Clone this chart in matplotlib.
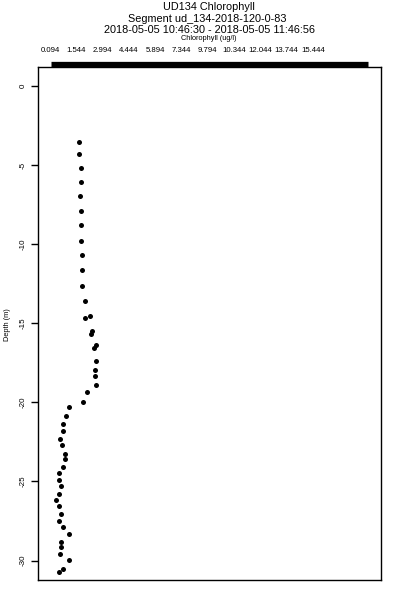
import matplotlib
matplotlib.use("Agg")
import matplotlib.pyplot as plt

# chlorophyll profile (ug/l) vs depth (m)
chl = [1.709, 1.709, 1.786, 1.819, 1.748, 1.819, 1.786, 1.819, 1.858, 1.875,
       1.858, 2.007, 2.040, 2.299, 2.409, 2.327, 2.646, 2.520, 2.630, 2.591,
       2.591, 2.646, 2.150, 1.897, 1.125, 0.976, 0.827, 0.794, 0.645, 0.756,
       0.937, 0.937, 0.827, 0.607, 0.607, 0.684, 0.574, 0.425, 0.607, 0.717,
       0.607, 0.794, 1.125, 0.684, 0.684, 0.645, 1.125, 0.794, 0.607]
depth = [-3.54, -4.32, -5.21, -6.09, -6.97, -7.92, -8.80, -9.80, -10.68, -11.65,
         -12.64, -13.59, -14.65, -14.52, -15.49, -15.68, -16.37, -16.58, -17.38, -17.93,
         -18.31, -18.90, -19.33, -19.96, -20.29, -20.88, -21.38, -21.79, -22.31, -22.69,
         -23.24, -23.58, -24.06, -24.48, -24.91, -25.28, -25.77, -26.19, -26.57, -27.05,
         -27.48, -27.86, -28.30, -28.81, -29.12, -29.60, -29.96, -30.53, -30.74]

xtick_labels = ["0.094", "1.544", "2.994", "4.444", "5.894", "7.344",
                "9.794", "10.344", "12.044", "13.744", "15.444"]
xtick_pos = [0.094 + 1.45 * i for i in range(len(xtick_labels))]
yticks = [0, -5, -10, -15, -20, -25, -30]

plt.rcParams['font.family'] = ['Liberation Sans', 'DejaVu Sans']

fig = plt.figure(figsize=(4, 6), dpi=100)
ax = fig.add_axes([0.095, 0.0333, 0.857, 0.8557])

ax.plot(chl, depth, 'o', color='black', ms=3.6, mew=0)

ax.set_xlim(-0.567, 18.325)
ax.set_ylim(-31.23, 1.22)

ax.xaxis.tick_top()
ax.set_xticks(xtick_pos)
ax.set_xticklabels(xtick_labels, fontsize=5.6)
ax.tick_params(axis='x', length=0, pad=9)

ax.set_yticks(yticks)
ax.set_yticklabels([str(v) for v in yticks], fontsize=5.8, rotation=90, va='center')
ax.tick_params(axis='y', length=5, width=1, pad=3)

for s in ax.spines.values():
    s.set_linewidth(1)

# thick bar along the top axis
ax.plot([0.149, 17.6], [1.0043, 1.0043], color='black', lw=3.8,
        solid_capstyle='butt', transform=ax.get_xaxis_transform(), clip_on=False)

fig.text(0.522, 1 - 7 / 600, "UD134 Chlorophyll", ha='center', va='center', fontsize=7.8)
fig.text(0.517, 1 - 18.5 / 600, "Segment ud_134-2018-120-0-83", ha='center', va='center', fontsize=7.8)
fig.text(0.525, 1 - 30 / 600, "2018-05-05 10:46:30 - 2018-05-05 11:46:56",
         ha='center', va='center', fontsize=7.8)
fig.text(0.522, 1 - 38.5 / 600, "Chlorophyll (ug/l)", ha='center', va='center', fontsize=5.3)
fig.text(0.018, 1 - 325 / 600, "Depth (m)", ha='center', va='center', fontsize=5.3, rotation=90)

fig.savefig("out.png", dpi=100)
